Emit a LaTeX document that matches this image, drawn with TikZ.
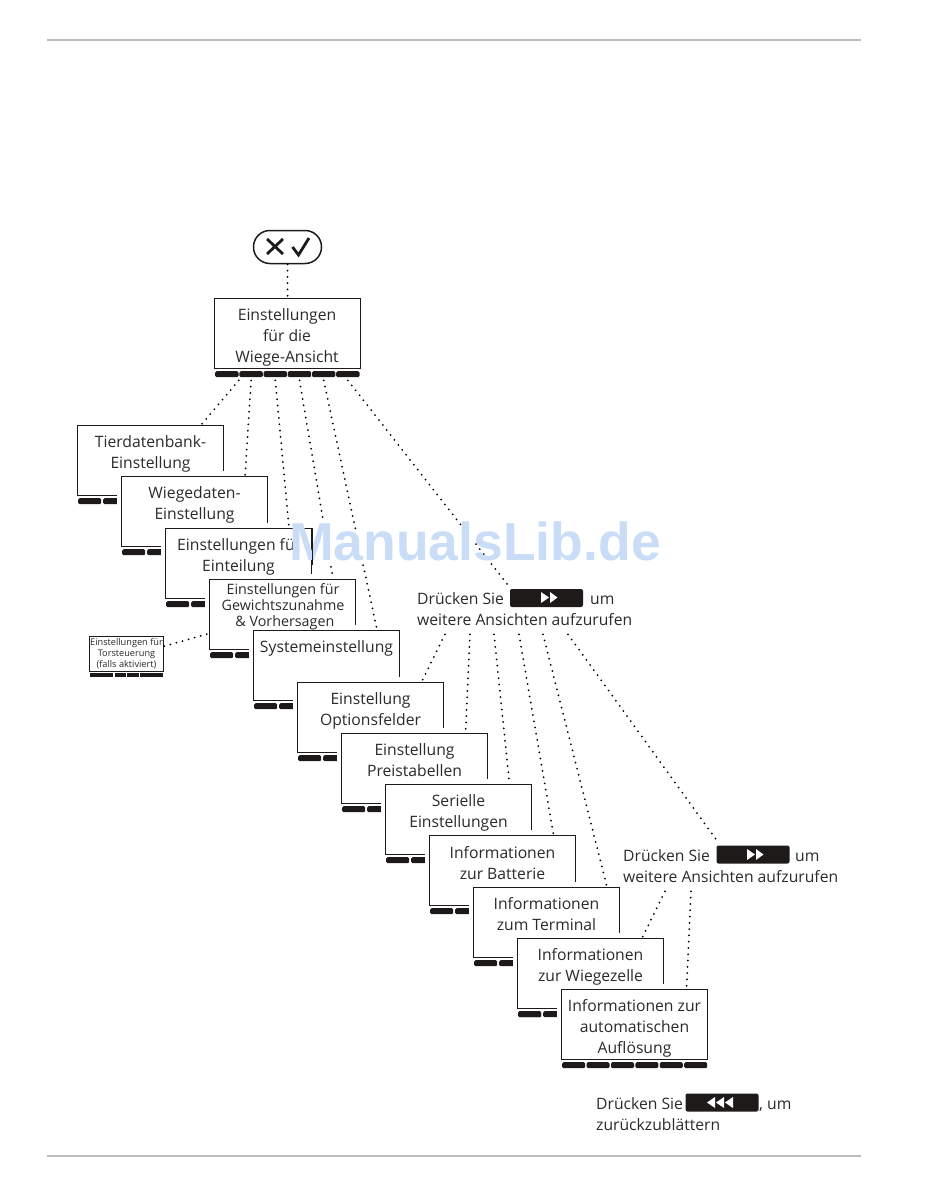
\documentclass[tikz,border=0pt]{standalone}
\usepackage{fontspec}
\setmainfont{Open Sans}
\newfontfamily\wmfont{Liberation Sans}
\definecolor{rulegray}{HTML}{BDBDBD}
\definecolor{wmblue}{HTML}{CADDF7}
\definecolor{ink}{HTML}{1E1A1A}
\definecolor{txt}{HTML}{2C2A2A}
\tikzset{
  scrbox/.style={draw=ink,fill=white,line width=0.9pt,minimum width=146.2pt,minimum height=70.2pt,inner sep=0pt,anchor=north west},
  halo/.style={fill=white,draw=none,minimum width=155pt,minimum height=81pt,inner sep=0pt,anchor=north west},
  seg/.style={fill=ink,draw=none,rounded corners=1.4pt,minimum width=23pt,minimum height=6pt,inner sep=0pt,anchor=north west},
  lbl/.style={align=center,inner sep=0pt,text=txt,font=\fontsize{15.7}{21}\selectfont},
  lblsm/.style={align=center,inner sep=0pt,text=txt,font=\fontsize{14.3}{16}\selectfont},
  lbltiny/.style={align=center,inner sep=0pt,text=txt,font=\fontsize{9.2}{11}\selectfont},
  say/.style={anchor=base west,inner sep=0pt,text=txt,font=\fontsize{15.7}{21}\selectfont},
  btn/.style={fill=ink,draw=none,rounded corners=2pt,minimum width=73pt,minimum height=18pt,inner sep=0pt},
  dots/.style={draw=black,line width=2pt,line cap=round,dash pattern=on 0pt off 6.3pt},
  rulebar/.style={draw=rulegray,line width=2pt},
}
\newcommand{\screen}[3]{%
  \node[halo] at (#2-4,#3-5) {};
  \node[seg] at (#2+1,#3+73) {};
  \node[seg] at (#2+26,#3+73) {};
  \node[scrbox] (#1) at (#2,#3) {};
}
\newcommand{\fwd}[2]{%
  \fill[white] (#1-8,#2-5.5) -- (#1,#2) -- (#1-8,#2+5.5) -- cycle;
  \fill[white] (#1+1,#2-5.5) -- (#1+8.5,#2) -- (#1+1,#2+5.5) -- cycle;
}
\begin{document}
\begin{tikzpicture}[x=1pt,y=-1pt]
\useasboundingbox (0,0) rectangle (950,1186);
\coordinate (r1a) at (47,40); \coordinate (r1b) at (861,40);
\coordinate (r2a) at (47,1156); \coordinate (r2b) at (861,1156);
\draw[rulebar] (r1a) -- (r1b);
\draw[rulebar] (r2a) -- (r2b);
% key pill
\node[draw=ink,line width=1.5pt,rounded corners=16.4pt,minimum width=68pt,minimum height=33pt,inner sep=0pt] (pill) at (287.5,247) {};
\draw[ink,line width=2.8pt] (267,239) -- (283,254) (283,239) -- (267,254);
\draw[ink,line width=2.8pt] (292.5,247) -- (298.5,255) -- (309,238);
% top screen
\node[scrbox] (top) at (214,298) {};
\foreach \n/\xx in {1/215,2/239.2,3/263.4,4/287.6,5/311.8,6/336}{
  \node[seg,minimum width=23.4pt] (s\n) at (\xx,371) {};
}
% small screen
\node[draw=ink,fill=white,line width=0.9pt,minimum width=74.4pt,minimum height=35.4pt,inner sep=0pt,anchor=north west] (sb) at (89,636) {};
\foreach \xx in {114.5,127,139.5,151}{
  \node[seg,minimum width=11.5pt,minimum height=4pt,rounded corners=0pt] at (\xx,673) {};
}
\node[seg,minimum width=23pt,minimum height=4pt,rounded corners=0pt] at (90,673) {};
% stack
\screen{b1}{77}{425}
\screen{b2}{121}{476}
\screen{b3}{165}{528}
\screen{b4}{209}{579}
\screen{b5}{253}{630}
\screen{b6}{297}{682}
\screen{b7}{341}{733}
\screen{b8}{385}{784}
\screen{b9}{429}{835}
\screen{b10}{473}{887}
\screen{b11}{517}{938}
\node[halo,minimum width=155pt] at (557,984) {};
\node[seg] at (518,1011) {};
\node[scrbox] (b12) at (561,989) {};
\foreach \n/\xx in {1/562,2/586.4,3/610.8,4/635.2,5/659.6,6/684}{
  \node[seg,minimum width=23pt] (e\n) at (\xx,1062) {};
}
% labels
\node[lbl] (ltop) at (287,337.5) {Einstellungen\\für die\\Wiege-Ansicht};
\node[lbl] (l1) at (150.5,454) {Tierdatenbank-\\Einstellung};
\node[lbl] (l2) at (194.5,505) {Wiegedaten-\\Einstellung};
\node[lbl,anchor=base west] (l3a) at (177,550) {Einstellungen fü};
\node[lbl] (l3b) at (238.5,567) {Einteilung};
\node[lblsm] (l4) at (283,607) {Einstellungen für\\Gewichtszunahme\\\ \& Vorhersagen};
\node[lbl] (l5) at (326.5,648.5) {Systemeinstellung};
\node[lbl] (l6) at (370.5,710.5) {Einstellung\\Optionsfelder};
\node[lbl] (l7) at (414.5,760.5) {Einstellung\\Preistabellen};
\node[lbl] (l8) at (458.5,812.5) {Serielle\\Einstellungen};
\node[lbl] (l9) at (502.5,863) {Informationen\\zur Batterie};
\node[lbl] (l10) at (546.5,914.5) {Informationen\\zum Terminal};
\node[lbl] (l11) at (590.5,966.5) {Informationen\\zur Wiegezelle};
\node[lbl] (l12) at (634.5,1028.5) {Informationen zur\\automatischen\\Auflösung};
\node[lbltiny] (lsb) at (126.5,653.5) {Einstellungen für\\Torsteuerung\\(falls aktiviert)};
% prompts
\node[say] (p1a) at (417,604) {Drücken Sie};
\node[btn] (p1b) at (546.5,598) {};
\fwd{549}{597.5}
\node[say] (p1c) at (590,604) {um};
\node[say] (p1d) at (417,625) {weitere Ansichten aufzurufen};
\node[say] (p2a) at (623,861) {Drücken Sie};
\node[btn] (p2b) at (753,854.5) {};
\fwd{755}{854.5}
\node[say] (p2c) at (795,861) {um};
\node[say] (p2d) at (623,882) {weitere Ansichten aufzurufen};
\node[say] (p3a) at (596,1109) {Drücken Sie};
\node[btn] (p3b) at (722,1102.5) {};
\fill[white] (715,1097) -- (707,1102.5) -- (715,1108) -- cycle;
\fill[white] (724,1097) -- (716,1102.5) -- (724,1108) -- cycle;
\fill[white] (733,1097) -- (725,1102.5) -- (733,1108) -- cycle;
\node[say] (p3c) at (759,1109) {, um};
\node[say] (p3d) at (596,1130) {zurückzublättern};
% connectors
\draw[dots] (pill.south) -- (top.north);
\draw[dots] ([yshift=-3pt]s1.south east) -- ([xshift=50.5pt]b1.north);
\draw[dots] ([yshift=-3pt]s2.south) -- ([xshift=50.5pt]b2.north);
\draw[dots] ([yshift=-3pt]s3.south) -- ([xshift=50.5pt]b3.north);
\draw[dots] ([yshift=-3pt]s4.south) -- ([xshift=50.5pt]b4.north);
\draw[dots] ([yshift=-3pt]s5.south) -- ([xshift=50.5pt]b5.north);
\draw[dots] ([yshift=-3pt]s6.south) -- ([xshift=-38pt,yshift=3pt]p1b.north);
\draw[dots] ([xshift=28pt,yshift=-9pt]p1d.south west) -- ([xshift=51pt]b6.north);
\draw[dots] ([xshift=53pt,yshift=-9pt]p1d.south west) -- ([xshift=51pt]b7.north);
\draw[dots] ([xshift=77pt,yshift=-9pt]p1d.south west) -- ([xshift=51pt]b8.north);
\draw[dots] ([xshift=102pt,yshift=-9pt]p1d.south west) -- ([xshift=51pt]b9.north);
\draw[dots] ([xshift=126pt,yshift=-9pt]p1d.south west) -- ([xshift=60.5pt]b10.north);
\draw[dots] ([xshift=151pt,yshift=-9pt]p1d.south west) -- ([xshift=-37pt,yshift=6pt]p2b.north);
\draw[dots] ([xshift=42pt,yshift=-9pt]p2d.south west) -- ([xshift=51.5pt]b11.north);
\draw[dots] ([xshift=68pt,yshift=-9pt]p2d.south west) -- ([xshift=52pt]b12.north);
\draw[dots] ([yshift=8pt]sb.east) -- ([yshift=-19pt]b4.west);
% the watermark clears the dots around its letters
\fill[white] (318,521) rectangle (337,562);
\fill[white] (350,531) rectangle (368,561);
\fill[white] (464,528) rectangle (474,541);
\node[inner sep=0pt,text=wmblue,font={\wmfont\bfseries\fontsize{53.5}{60}\selectfont}] (wm) at (475,541) {ManualsLib.de};
\draw[draw=ink,line width=0.9pt] (b3.north east) -- ([yshift=-1pt]b3.east);
\end{tikzpicture}
\end{document}
